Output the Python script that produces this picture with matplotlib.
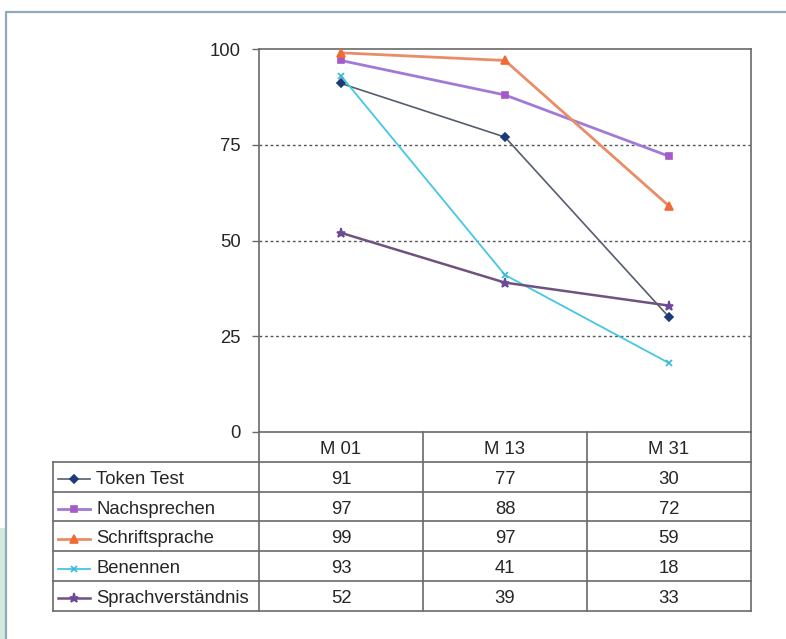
#!/usr/bin/env python3
"""Verlauf der Testergebnisse (M 01 / M 13 / M 31) mit Datentabelle darunter.

Writes:
    out.png
"""

from __future__ import annotations

import matplotlib.pyplot as plt
from matplotlib.lines import Line2D

plt.rcParams["font.family"] = ["Liberation Sans", "DejaVu Sans"]

MONTHS = ["M 01", "M 13", "M 31"]
SERIES = ["Token Test", "Nachsprechen", "Schriftsprache", "Benennen", "Sprachverständnis"]
TOKEN_TEST = [91, 77, 30]
NACHSPRECHEN = [97, 88, 72]
SCHRIFTSPRACHE = [99, 97, 59]
BENENNEN = [93, 41, 18]
SPRACHVERSTAENDNIS = [52, 39, 33]
Y_TICKS = [0, 25, 50, 75, 100]

# line colour, line width, marker colour, marker, marker size
STYLES = [
    ("#555d6e", 1.2, "#1d3a78", "D", 4.5),
    ("#a07ad6", 2.0, "#a65ac8", "s", 5),
    ("#e98d68", 2.0, "#f06a35", "^", 5.5),
    ("#45c6e4", 1.3, "#35b8dc", "x", 5),
    ("#6f5280", 1.8, "#6a4a9a", "*", 6.5),
]

W, H = 786, 639
# pixel layout
AX_L, AX_R, AX_T, AX_B = 259, 751, 49, 432
TAB_L = 53
ROW_H = 29.8
GRID = "#6a6a6a"
TXT = "#262626"
FS = 13.3


def main() -> None:
    values = [TOKEN_TEST, NACHSPRECHEN, SCHRIFTSPRACHE, BENENNEN, SPRACHVERSTAENDNIS]

    fig = plt.figure(figsize=(W / 100, H / 100), dpi=100)
    fig.patch.set_facecolor("white")

    # overlay in pixel coordinates for frame + table
    ov = fig.add_axes([0, 0, 1, 1], zorder=0)
    ov.set_xlim(0, W)
    ov.set_ylim(H, 0)
    ov.axis("off")

    ov.add_patch(plt.Rectangle((0, 528), 5, H - 528, color="#d3e8df", lw=0))
    ov.plot([6, 6, W], [H, 12, 12], color="#8ea9b8", lw=1.6, solid_capstyle="butt")

    ax = fig.add_axes(
        [AX_L / W, 1 - AX_B / H, (AX_R - AX_L) / W, (AX_B - AX_T) / H], zorder=2
    )
    ax.set_facecolor("none")
    xs = list(range(len(MONTHS)))
    for vals, (lc, lw, mc, mk, ms) in zip(values, STYLES):
        ax.plot(
            xs, vals, color=lc, lw=lw, marker=mk, markersize=ms,
            markerfacecolor=mc, markeredgecolor=mc, markeredgewidth=1.2, zorder=3,
        )

    ax.set_xlim(-0.5, len(MONTHS) - 0.5)
    ax.set_ylim(0, 100)
    ax.set_yticks(Y_TICKS)
    ax.set_yticklabels([str(t) for t in Y_TICKS], fontsize=FS, color=TXT)
    ax.set_xticks([])
    ax.tick_params(axis="y", length=5, width=1, color=GRID, pad=8)
    for t in Y_TICKS[1:-1]:
        ax.axhline(t, color="#555555", lw=1, linestyle=(0, (2, 2)), zorder=1)
    for s in ax.spines.values():
        s.set_color(GRID)
        s.set_linewidth(1.2)

    # data table below the x axis
    col_w = (AX_R - AX_L) / len(MONTHS)
    head_b = AX_B + ROW_H
    tab_b = head_b + ROW_H * len(SERIES)
    lk = dict(color=GRID, lw=1.2, solid_capstyle="projecting")
    for i in range(len(MONTHS) + 1):
        x = AX_L + i * col_w
        ov.plot([x, x], [AX_B, tab_b], **lk)
    ov.plot([TAB_L, TAB_L], [head_b, tab_b], **lk)
    for j in range(len(SERIES) + 1):
        y = head_b + j * ROW_H
        ov.plot([TAB_L, AX_R], [y, y], **lk)

    for i, m in enumerate(MONTHS):
        ov.text(AX_L + (i + 0.5) * col_w, AX_B + ROW_H / 2 + 2.5, m,
                ha="center", va="center", fontsize=FS, color=TXT)

    for j, (name, vals, (lc, lw, mc, mk, ms)) in enumerate(zip(SERIES, values, STYLES)):
        yc = head_b + (j + 0.5) * ROW_H + 2.5
        ov.add_line(Line2D([58, 90], [yc, yc], color=lc, lw=lw))
        ov.add_line(Line2D([74], [yc], marker=mk, markersize=ms,
                           markerfacecolor=mc, markeredgecolor=mc, markeredgewidth=1.2))
        ov.text(96, yc, name, ha="left", va="center", fontsize=FS, color=TXT)
        for i, v in enumerate(vals):
            ov.text(AX_L + (i + 0.5) * col_w, yc, str(v),
                    ha="center", va="center", fontsize=FS, color=TXT)

    fig.savefig("out.png", dpi=100)


if __name__ == "__main__":
    main()
